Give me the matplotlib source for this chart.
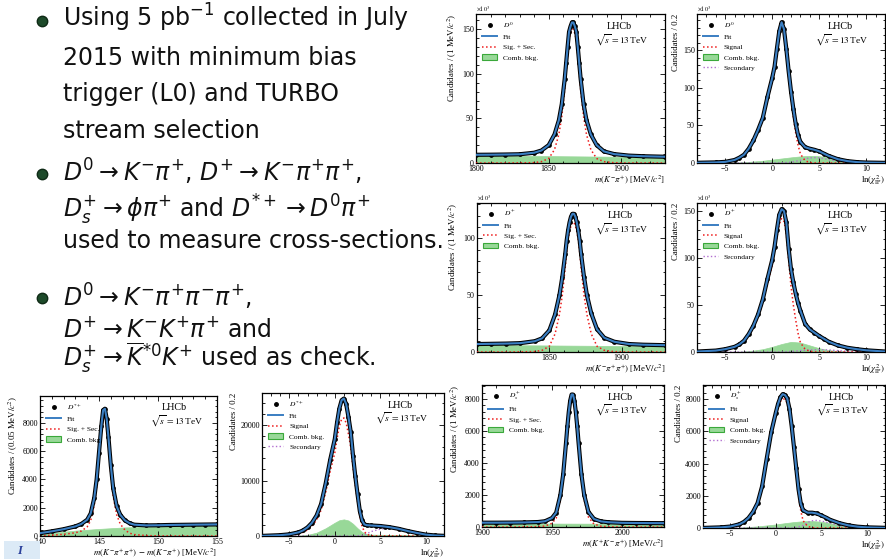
import matplotlib
matplotlib.use('Agg')
import matplotlib.pyplot as plt
from matplotlib.lines import Line2D
from matplotlib.patches import Patch, Rectangle
from matplotlib.ticker import AutoMinorLocator

plt.rcParams['font.family'] = ['Liberation Serif', 'DejaVu Serif']
plt.rcParams['mathtext.fontset'] = 'stix'

# ---- D0 -> K- pi+ mass (x10^3) ----
A_x = [1800, 1810, 1820, 1830, 1840, 1845, 1850, 1854, 1857, 1859, 1861, 1862, 1863, 1864, 1865, 1866,
       1867, 1868, 1869, 1870, 1871, 1872, 1874, 1876, 1879, 1883, 1888, 1895, 1905, 1915, 1930]
A_cnt = [9.2, 9.3, 9.5, 9.8, 11.5, 14, 20, 32, 48, 66, 94, 112, 130, 147, 153, 157.5,
         157.5, 153, 147, 130, 112, 94, 66, 48, 32, 20, 13, 10, 8.3, 7.6, 7.0]
A_sig = [0, 0, 0, 0.1, 0.4, 1.5, 5, 15, 32, 52, 82, 102, 121, 138, 145, 150,
         150, 145, 138, 121, 102, 82, 52, 32, 15, 5, 1.5, 0.3, 0, 0, 0]
A_bkg_x = [1800, 1930]
A_bkg = [8.5, 6.5]

# ---- D0 ln(chi2_IP) (x10^3) ----
B_x = [-8, -6, -5, -4, -3.5, -3, -2.5, -2, -1.5, -1, -0.5, 0, 0.25, 0.5, 0.75, 1.0, 1.25, 1.5,
       1.75, 2.0, 2.25, 2.5, 2.75, 3.0, 3.5, 4, 4.5, 5, 5.5, 6, 7, 8, 9, 10, 12]
B_cnt = [0.3, 0.8, 1.5, 4, 7, 11, 19, 30, 44, 60, 88, 113, 128, 152, 175, 187, 178, 152,
         122, 95, 72, 52, 37, 28, 21, 19, 17.5, 15.5, 12.5, 9.5, 5, 2.5, 1.2, 0.6, 0.2]
B_sig = [0.2, 0.7, 1.4, 3.8, 6.6, 10.5, 18, 29, 42, 57, 84, 108, 122, 146, 170, 182, 173, 146,
         114, 86, 61, 40, 24, 12, 3, 0.6, 0.1, 0, 0, 0, 0, 0, 0, 0, 0]
B_bkg_x = [-8, -5, -3, -1, 0, 1, 2, 3, 4, 5, 6, 7, 8, 10, 12]
B_bkg = [0, 0.2, 1, 3, 4.5, 6, 7.5, 8.8, 9.5, 9, 7.5, 5, 3, 0.8, 0.1]
B_sec_x = [-8, 0, 1, 2, 3, 3.5, 4, 4.5, 5, 5.5, 6, 7, 8, 9, 10, 12]
B_sec = [0, 0, 0.2, 1, 3.5, 5.5, 6.8, 7.2, 6.8, 5.8, 4.5, 2.5, 1, 0.4, 0.1, 0]

# ---- D+ -> K- pi+ pi+ mass (x10^3) ----
C_x = [1800, 1810, 1820, 1830, 1840, 1845, 1850, 1854, 1857, 1859, 1861, 1862, 1863, 1864, 1865, 1866,
       1867, 1868, 1869, 1870, 1871, 1872, 1874, 1876, 1879, 1883, 1888, 1895, 1905, 1915, 1930]
C_cnt = [7.0, 7.2, 7.4, 7.8, 9.5, 12, 19, 33, 50, 66, 86, 98, 107, 114, 119, 121.5,
         121.5, 119, 114, 107, 98, 86, 66, 50, 34, 20, 12.5, 9, 7, 6.4, 6.0]
C_sig = [0, 0, 0, 0.1, 0.4, 1.5, 5, 16, 33, 50, 74, 88, 99, 106, 111, 114,
         114, 111, 106, 99, 88, 74, 50, 33, 16, 5, 1.5, 0.3, 0, 0, 0]
C_bkg_x = [1800, 1930]
C_bkg = [6.2, 5.0]

# ---- D+ ln(chi2_IP) (x10^3) ----
D_x = B_x
D_cnt = [0.5, 1.5, 3, 5.5, 8, 12, 19, 28, 40, 56, 78, 98, 112, 130, 146, 152, 150, 138,
         110, 88, 74, 62, 52, 44, 30, 24, 20.5, 17, 14, 11, 7, 4.5, 3, 1.8, 0.5]
D_sig = [0.4, 1.3, 2.6, 4.8, 7, 10.5, 17, 25.5, 37, 52, 73, 92, 106, 122, 136, 142, 139, 126,
         98, 70, 50, 34, 20, 10, 3, 0.7, 0.1, 0, 0, 0, 0, 0, 0, 0, 0]
D_bkg_x = [-8, -4, -3, -2, -1, 0, 1, 2, 3, 4, 5, 6, 7, 8, 12]
D_bkg = [0, 0.2, 0.5, 1.5, 3, 5.5, 8.5, 10.8, 10, 7, 4, 2, 1, 0.4, 0]
D_sec_x = [-8, 1, 2, 3, 4, 5, 6, 7, 8, 9, 12]
D_sec = [0, 0, 0.5, 1.5, 2.2, 2.5, 2.2, 1.5, 0.8, 0.3, 0]

# ---- D*+ delta mass ----
E_x = [140, 141, 142, 143, 143.5, 144, 144.3, 144.6, 144.8, 145.0, 145.2, 145.35, 145.5, 145.65, 145.8,
       146.0, 146.2, 146.5, 146.8, 147.2, 147.6, 148, 149, 150, 151, 152, 153, 154, 155]
E_cnt = [200, 330, 480, 680, 850, 1150, 1600, 2700, 4000, 5900, 7800, 8900, 9000, 8300, 7000,
         5000, 3400, 2100, 1500, 1100, 900, 800, 750, 760, 780, 790, 800, 810, 820]
E_sig = [0, 60, 120, 230, 350, 650, 1100, 2200, 3500, 5400, 7300, 8300, 8400, 7700, 6400,
         4400, 2800, 1500, 850, 420, 200, 100, 30, 10, 0, 0, 0, 0, 0]
E_bkg_x = [140, 140.5, 141, 142, 143, 145, 147, 150, 153, 155]
E_bkg = [60, 150, 210, 300, 380, 500, 600, 680, 730, 760]

# ---- D*+ ln(chi2_IP) ----
F_x = [-8, -6, -5, -4, -3.5, -3, -2.5, -2, -1.5, -1, -0.5, 0, 0.25, 0.5, 0.75, 1.0, 1.25, 1.5, 1.75,
       2.0, 2.25, 2.5, 2.75, 3.0, 3.25, 3.5, 4, 4.5, 5, 5.5, 6, 7, 8, 9, 10, 11, 12]
F_cnt = [20, 150, 300, 650, 1000, 1550, 2400, 3700, 5800, 9500, 13800, 17500, 20500, 23000, 24500,
         24800, 23800, 21500, 18800, 14500, 10800, 7500, 4500, 2800, 2100, 1950, 1900, 1850, 1800,
         1700, 1600, 1300, 900, 550, 250, 100, 30]
F_sig = [0, 50, 150, 400, 650, 1100, 1800, 2900, 4700, 7900, 11700, 15000, 17600, 19800, 21100,
         21300, 20400, 18400, 16000, 12300, 9200, 6300, 3600, 1700, 800, 300, 60, 10, 0,
         0, 0, 0, 0, 0, 0, 0, 0]
F_bkg_x = [-8, -4, -3, -2, -1, 0, 0.5, 1, 1.5, 2, 2.5, 3, 3.5, 4, 5, 6, 8, 10, 12]
F_bkg = [0, 50, 200, 600, 1400, 2400, 2850, 3000, 2800, 2200, 1400, 700, 350, 250, 220, 200, 150, 80, 20]
F_sec_x = [-8, 2, 3, 3.5, 4, 5, 6, 7, 8, 9, 10, 11, 12]
F_sec = [0, 0, 100, 400, 800, 1250, 1400, 1250, 900, 500, 200, 60, 10]

# ---- Ds+ -> K+ K- pi+ mass ----
G_x = [1900, 1910, 1920, 1930, 1940, 1945, 1950, 1953, 1956, 1958, 1960, 1961, 1962, 1963, 1964,
       1965, 1966, 1967, 1968, 1969, 1971, 1973, 1976, 1980, 1985, 1990, 2000, 2010, 2020, 2030]
G_cnt = [270, 270, 275, 285, 310, 360, 560, 900, 2000, 3300, 5250, 6300, 7200, 7900, 8280,
         8280, 7900, 7200, 6300, 5250, 3300, 2000, 950, 500, 350, 300, 260, 250, 245, 240]
G_sig = [0, 0, 0, 5, 20, 60, 230, 560, 1700, 3050, 5000, 6050, 6950, 7700, 8080,
         8080, 7700, 6950, 6050, 5000, 3050, 1700, 620, 180, 50, 15, 0, 0, 0, 0]
G_bkg_x = [1900, 2030]
G_bkg = [220, 200]

# ---- Ds+ ln(chi2_IP) ----
H_x = B_x
H_cnt = [5, 40, 90, 230, 380, 620, 1000, 1550, 2600, 4300, 5950, 7150, 7700, 8100, 8300, 8250, 8050,
         7400, 6300, 5000, 3700, 2400, 1500, 1100, 950, 950, 900, 780, 650, 500, 300, 160, 80, 40, 10]
H_sig = [5, 35, 80, 210, 350, 580, 940, 1470, 2500, 4150, 5750, 6900, 7450, 7850, 8000, 8000, 7750,
         7100, 6000, 4700, 3350, 2000, 1050, 450, 100, 20, 0, 0, 0, 0, 0, 0, 0, 0, 0]
H_bkg_x = [-8, -4, -2, 0, 1, 2, 3, 4, 5, 6, 7, 8, 10, 12]
H_bkg = [0, 20, 100, 220, 300, 370, 420, 430, 390, 300, 180, 90, 20, 0]
H_sec_x = [-8, 2, 3, 3.5, 4, 4.5, 5, 6, 7, 8, 9, 12]
H_sec = [0, 0, 150, 350, 450, 470, 430, 300, 150, 60, 20, 0]

bullet_lines = [
    r'Using 5 pb$^{-1}$ collected in July',
    '2015 with minimum bias',
    'trigger (L0) and TURBO',
    'stream selection',
    r'$D^0 \rightarrow K^{-}\pi^{+}$, $D^{+} \rightarrow K^{-}\pi^{+}\pi^{+}$,',
    r'$D_s^{+} \rightarrow \phi\pi^{+}$ and $D^{*+} \rightarrow D^0\pi^{+}$',
    'used to measure cross-sections.',
    r'$D^0 \rightarrow K^{-}\pi^{+}\pi^{-}\pi^{+}$,',
    r'$D^{+} \rightarrow K^{-}K^{+}\pi^{+}$ and',
    r'$D_s^{+} \rightarrow \overline{K}^{*0}K^{+}$ used as check.',
]
line_base = [27, 65, 101, 138, 182, 218, 248, 307, 337, 366]
bullet_y = [21, 174, 298]

FIT = '#3a7ec2'
SIG = '#ee1c1c'
BKG = '#98d898'
BKGE = '#3aa83a'
SEC = '#b26fd0'

W, H = 886, 559
fig = plt.figure(figsize=(W / 100, H / 100), dpi=100)


def rect(l, t, r, b):
    return [l / W, 1 - b / H, (r - l) / W, (b - t) / H]


def panel(box, x, cnt, sig, bx, by, sx, sy, name, xlim, ylim, xticks, yticks,
          xlabel, ylabel, thousands=False):
    ax = fig.add_axes(box)
    ax.fill_between(bx, by, color=BKG, edgecolor=BKG, lw=0.5, zorder=1)
    if sx is not None:
        ax.plot(sx, sy, color=SEC, ls=':', lw=1.0, zorder=2)
    ax.plot(x, sig, color=SIG, ls=':', lw=1.1, zorder=3)
    ax.plot(x, cnt, color='k', lw=3.0, zorder=4)
    ax.plot(x, cnt, 'o', color='k', ms=2.4, zorder=4)
    ax.plot(x, cnt, color=FIT, lw=1.5, zorder=5)
    ax.set_xlim(*xlim)
    ax.set_ylim(*ylim)
    ax.set_xticks(xticks)
    ax.set_yticks(yticks)
    ax.xaxis.set_minor_locator(AutoMinorLocator(5))
    ax.yaxis.set_minor_locator(AutoMinorLocator(5))
    ax.tick_params(which='both', direction='in', top=True, right=True,
                   labelsize=5.8, width=0.6, pad=1.5)
    ax.tick_params(which='major', length=3.5)
    ax.tick_params(which='minor', length=1.8)
    for s in ax.spines.values():
        s.set_linewidth(0.9)
    ax.set_xlabel(xlabel, fontsize=6.3, loc='right', labelpad=0)
    ax.set_ylabel(ylabel, fontsize=6.3, loc='top', labelpad=2)
    if thousands:
        ax.text(0.0, 1.01, r'$\times10^{3}$', transform=ax.transAxes,
                fontsize=4.5, ha='left', va='bottom')
    ax.text(0.76, 0.915, 'LHCb', transform=ax.transAxes, fontsize=7.3,
            ha='center', va='center')
    ax.text(0.77, 0.82, r'$\sqrt{s} = 13\,$TeV', transform=ax.transAxes,
            fontsize=6.8, ha='center', va='center')
    handles = [Line2D([], [], color='k', marker='o', ms=2.5, ls='none'),
               Line2D([], [], color=FIT, lw=1.4),
               Line2D([], [], color=SIG, ls=':', lw=1.1),
               Patch(facecolor=BKG, edgecolor=BKGE, lw=0.8)]
    labels = [name, 'Fit', 'Signal' if sx is not None else 'Sig. + Sec.', 'Comb. bkg.']
    if sx is not None:
        handles.append(Line2D([], [], color=SEC, ls=':', lw=1.0))
        labels.append('Secondary')
    ax.legend(handles, labels, loc='upper left', fontsize=5.4, frameon=False,
              handlelength=2.0, labelspacing=0.55, borderaxespad=0.4,
              handletextpad=0.8)
    return ax


mass_lab = 'Candidates / (1 MeV$/c^2$)'
chi_lab = 'Candidates / 0.2'
chi_x = r'$\ln(\chi^2_{\rm IP})$'

panel(rect(476, 14, 665, 163), A_x, A_cnt, A_sig, A_bkg_x, A_bkg, None, None,
      r'$D^0$', (1800, 1930), (0, 167), [1800, 1850, 1900], [0, 50, 100, 150],
      r'$m(K^{-}\pi^{+})$ [MeV$/c^2$]', mass_lab, thousands=True)
panel(rect(697, 14, 885, 163), B_x, B_cnt, B_sig, B_bkg_x, B_bkg, B_sec_x, B_sec,
      r'$D^0$', (-8, 12), (0, 198), [-5, 0, 5, 10], [0, 50, 100, 150],
      chi_x, chi_lab, thousands=True)
panel(rect(477, 203, 665, 352), C_x, C_cnt, C_sig, C_bkg_x, C_bkg, None, None,
      r'$D^+$', (1800, 1930), (0, 131), [1850, 1900], [0, 50, 100],
      r'$m(K^{-}\pi^{+}\pi^{+})$ [MeV$/c^2$]', mass_lab, thousands=True)
panel(rect(697, 203, 885, 352), D_x, D_cnt, D_sig, D_bkg_x, D_bkg, D_sec_x, D_sec,
      r'$D^+$', (-8, 12), (0, 158.5), [-5, 0, 5, 10], [0, 50, 100, 150],
      chi_x, chi_lab, thousands=True)
panel(rect(40, 396, 217, 536), E_x, E_cnt, E_sig, E_bkg_x, E_bkg, None, None,
      r'$D^{*+}$', (140, 155), (0, 9900), [140, 145, 150, 155], [0, 2000, 4000, 6000, 8000],
      r'$m(K^{-}\pi^{+}\pi^{+})\,-\,m(K^{-}\pi^{+})$ [MeV$/c^2$]',
      'Candidates / (0.05 MeV$/c^2$)')
panel(rect(262, 393, 444, 536), F_x, F_cnt, F_sig, F_bkg_x, F_bkg, F_sec_x, F_sec,
      r'$D^{*+}$', (-8, 12), (0, 25800), [-5, 0, 5, 10], [0, 10000, 20000],
      chi_x, chi_lab)
panel(rect(482, 385, 664, 527), G_x, G_cnt, G_sig, G_bkg_x, G_bkg, None, None,
      r'$D_s^+$', (1900, 2030), (0, 8875), [1900, 1950, 2000], [0, 2000, 4000, 6000, 8000],
      r'$m(K^{+}K^{-}\pi^{+})$ [MeV$/c^2$]', mass_lab)
panel(rect(703, 385, 885, 528), H_x, H_cnt, H_sig, H_bkg_x, H_bkg, H_sec_x, H_sec,
      r'$D_s^+$', (-8, 12), (0, 8870), [-5, 0, 5, 10], [0, 2000, 4000, 6000, 8000],
      chi_x, chi_lab)

# bullet text
for txt, yb in zip(bullet_lines, line_base):
    fig.text(63 / W, 1 - yb / H, txt, fontsize=17, family=['DejaVu Sans'],
             math_fontfamily='dejavusans', ha='left', va='baseline', color='#111111')
for yb in bullet_y:
    fig.add_artist(Line2D([42 / W], [1 - yb / H], marker='o', ms=7.5, color='#1d4a2a',
                          markeredgecolor='#0f2a16', transform=fig.transFigure))

# footer logo fragment
fig.add_artist(Rectangle((4 / W, 0), 36 / W, 18 / H, transform=fig.transFigure,
                         facecolor='#dceaf6', edgecolor='none'))
fig.text(20 / W, 8 / H, 'I', fontsize=9, color='#2a3f9a', ha='center', va='center',
         style='italic', weight='bold')

fig.savefig('out.png', dpi=100)
